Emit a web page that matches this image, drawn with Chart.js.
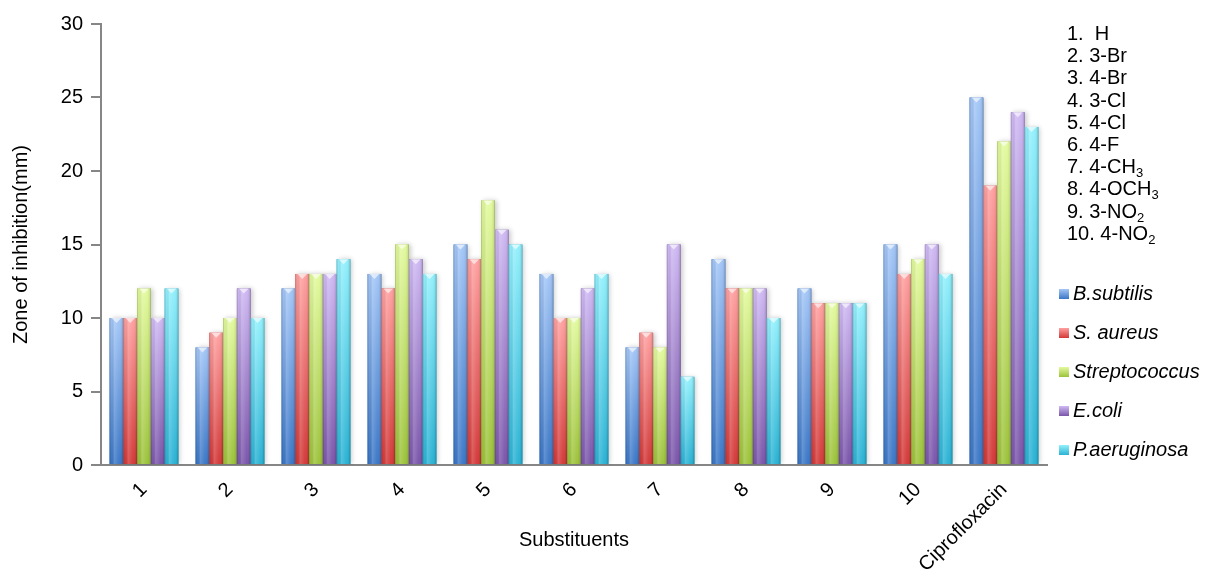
<!DOCTYPE html>
<html>
<head>
<meta charset="utf-8">
<title>Zone of inhibition</title>
<script src="https://cdn.jsdelivr.net/npm/chart.js@4/dist/chart.umd.min.js"></script>
<style>
  body { margin: 0; background: #fff; }
  #wrap { position: relative; width: 1211px; height: 573px; font-family: "Liberation Sans", Arial, sans-serif; color: #000; }
  #list { position: absolute; left: 1067px; top: 22px; font-size: 20px; line-height: 22.2px; white-space: nowrap; }
  #list sub { font-size: 13px; line-height: 0; vertical-align: -4px; }
  #legend { position: absolute; left: 1059px; top: 274px; margin: 0; padding: 0; list-style: none; }
  #legend li { height: 39px; display: flex; align-items: center; font-size: 20px; font-style: italic; white-space: nowrap; }
  #legend span.box { display: inline-block; width: 10px; height: 10px; margin-right: 4px; }
</style>
</head>
<body>
<div id="wrap">
  <canvas id="chart" width="1211" height="573"></canvas>
  <div id="list"></div>
  <ul id="legend"></ul>
</div>
<script>
// categorias do eixo x
const categories = ['1', '2', '3', '4', '5', '6', '7', '8', '9', '10', 'Ciprofloxacin'];

// zona de inibição (mm) por microrganismo
const bSubtilis     = [10, 8, 12, 13, 15, 13, 8, 14, 12, 15, 25];
const sAureus       = [10, 9, 13, 12, 14, 10, 9, 12, 11, 13, 19];
const streptococcus = [12, 10, 13, 15, 18, 10, 8, 12, 11, 14, 22];
const eColi         = [10, 12, 13, 14, 16, 12, 15, 12, 11, 15, 24];
const pAeruginosa   = [12, 10, 14, 13, 15, 13, 6, 10, 11, 13, 23];

const seriesNames = ['B.subtilis', 'S. aureus', 'Streptococcus', 'E.coli', 'P.aeruginosa'];
const yTicks = [0, 5, 10, 15, 20, 25, 30];

// lista de substituintes (texto à direita)
const substituents = ['H', '3-Br', '4-Br', '3-Cl', '4-Cl', '4-F', '4-CH<sub>3</sub>', '4-OCH<sub>3</sub>', '3-NO<sub>2</sub>', '4-NO<sub>2</sub>'];

// cores: [topo claro, base escura]
const shades = [
    ['#a3c6f7', '#3a76c6'],
    ['#ffa0a0', '#d33838'],
    ['#e3fa9e', '#9cc23a'],
    ['#cfb9f3', '#7a55aa'],
    ['#92f0fc', '#2ab2d4']
];

const font = '"Liberation Sans", Arial, sans-serif';

// lista numerada
document.getElementById('list').innerHTML = substituents
    .map((s, i) => (i + 1) + '.' + (i === 0 ? '&nbsp; ' : ' ') + s)
    .join('<br>');

// sombra + gradiente nas barras
const barShade = {
    id: 'barShade',
    beforeDatasetsDraw(chart) {
        const ctx = chart.ctx;
        ctx.save();
        ctx.shadowColor = 'rgba(0,0,0,0.22)';
        ctx.shadowBlur = 5;
        ctx.shadowOffsetX = 2;
    },
    afterDatasetsDraw(chart) {
        const ctx = chart.ctx;
        ctx.restore();
        chart.data.datasets.forEach((ds, i) => {
            const meta = chart.getDatasetMeta(i);
            const [light, dark] = shades[i];
            meta.data.forEach(bar => {
                const { x, y, base, width } = bar.getProps(['x', 'y', 'base', 'width'], true);
                const l = x - width / 2, r = x + width / 2;
                let g = ctx.createLinearGradient(0, y, 0, base);
                g.addColorStop(0, light);
                g.addColorStop(1, dark);
                ctx.fillStyle = g;
                ctx.fillRect(l, y, width, base - y);

                g = ctx.createLinearGradient(l, 0, r, 0);
                g.addColorStop(0, 'rgba(0,0,0,0.20)');
                g.addColorStop(0.12, 'rgba(0,0,0,0.02)');
                g.addColorStop(0.35, 'rgba(255,255,255,0.18)');
                g.addColorStop(0.7, 'rgba(255,255,255,0.02)');
                g.addColorStop(0.9, 'rgba(0,0,0,0.08)');
                g.addColorStop(1, 'rgba(0,0,0,0.28)');
                ctx.fillStyle = g;
                ctx.fillRect(l, y, width, base - y);

                // bisel no topo
                ctx.beginPath();
                ctx.moveTo(l + 2, y);
                ctx.lineTo(r - 2, y);
                ctx.lineTo(x, y + 5);
                ctx.closePath();
                ctx.fillStyle = 'rgba(255,255,255,0.6)';
                ctx.fill();
            });
        });
    }
};

const ctx = document.getElementById('chart').getContext('2d');
const chart = new Chart(ctx, {
    type: 'bar',
    data: {
        labels: categories,
        datasets: [bSubtilis, sAureus, streptococcus, eColi, pAeruginosa].map((d, i) => ({
            label: seriesNames[i],
            data: d,
            backgroundColor: shades[i][1],
            borderWidth: 0,
            categoryPercentage: 0.8,
            barPercentage: 1.0
        }))
    },
    options: {
        responsive: false,
        animation: false,
        devicePixelRatio: 1,
        layout: { padding: { top: 24, right: 164, left: 0, bottom: 0 } },
        plugins: {
            legend: { display: false },
            tooltip: { enabled: false }
        },
        scales: {
            x: {
                grid: { display: false, drawTicks: false },
                border: { color: '#868686', width: 2 },
                ticks: { color: '#000', font: { family: font, size: 20 }, minRotation: 45, maxRotation: 45, padding: 13 },
                title: { display: true, text: 'Substituents', color: '#000', font: { family: font, size: 20 }, padding: { bottom: 21 } },
                afterFit(scale) { scale.height = 108; }
            },
            y: {
                min: 0,
                max: 30,
                afterBuildTicks(scale) { scale.ticks = yTicks.map(v => ({ value: v })); },
                ticks: { color: '#000', font: { family: font, size: 20 }, padding: 8 },
                grid: { drawOnChartArea: false, tickLength: 10, color: '#868686', lineWidth: 2 },
                border: { color: '#868686', width: 2 },
                title: { display: true, text: 'Zone of inhibition(mm)', color: '#000', font: { family: font, size: 20 }, padding: { top: 9 } },
                afterFit(scale) { scale.width = 101; }
            }
        }
    },
    plugins: [barShade]
});

// legenda em HTML a partir dos datasets
const legend = document.getElementById('legend');
chart.data.datasets.forEach((ds, i) => {
    const li = document.createElement('li');
    const box = document.createElement('span');
    box.className = 'box';
    box.style.background = 'linear-gradient(' + shades[i][0] + ', ' + shades[i][1] + ')';
    li.appendChild(box);
    li.appendChild(document.createTextNode(ds.label));
    legend.appendChild(li);
});
</script>
</body>
</html>
